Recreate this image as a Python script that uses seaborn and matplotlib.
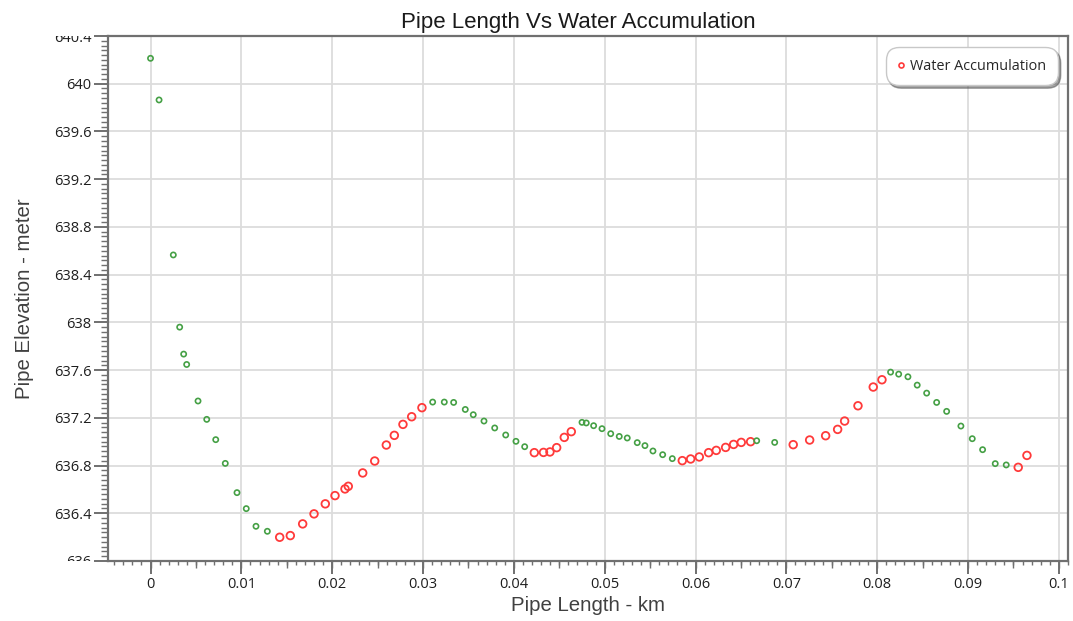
import numpy as np
import pandas as pd
import matplotlib
matplotlib.use("Agg")
import matplotlib.pyplot as plt
import seaborn as sns
from matplotlib.ticker import MultipleLocator, FixedLocator, NullFormatter
from matplotlib.transforms import Bbox, TransformedBbox
from matplotlib.lines import Line2D

# ---------------- data ----------------
x_green = [0.0000, 0.00094, 0.00251, 0.00321, 0.00365, 0.00398, 0.00523, 0.00619, 0.00718,
           0.00823, 0.00952, 0.01054, 0.01161, 0.01286, 0.03106, 0.03234, 0.03337, 0.03465,
           0.03553, 0.03671, 0.03789, 0.03910, 0.04023, 0.04119, 0.04750, 0.04797, 0.04878,
           0.04970, 0.05066, 0.05160, 0.05248, 0.05358, 0.05443, 0.05531, 0.05638, 0.05744,
           0.06673, 0.06871, 0.08147, 0.08236, 0.08338, 0.08440, 0.08544, 0.08654, 0.08764,
           0.08921, 0.09046, 0.09160, 0.09299, 0.09420]
y_green = [640.213, 639.864, 638.565, 637.960, 637.734, 637.647, 637.341, 637.187, 637.017,
           636.818, 636.573, 636.439, 636.291, 636.249, 637.332, 637.332, 637.329, 637.270,
           637.226, 637.173, 637.115, 637.056, 637.003, 636.958, 637.162, 637.157, 637.134,
           637.109, 637.067, 637.044, 637.031, 636.992, 636.967, 636.922, 636.891, 636.858,
           637.008, 636.994, 637.583, 637.566, 637.544, 637.474, 637.407, 637.329, 637.254,
           637.131, 637.025, 636.933, 636.816, 636.805]

x_red = [0.01422, 0.01539, 0.01675, 0.01800, 0.01924, 0.02031, 0.02141, 0.02177, 0.02336,
         0.02468, 0.02596, 0.02684, 0.02779, 0.02875, 0.02988, 0.04225, 0.04326, 0.04397,
         0.04471, 0.04555, 0.04632, 0.05854, 0.05946, 0.06041, 0.06144, 0.06228, 0.06331,
         0.06419, 0.06503, 0.06606, 0.07075, 0.07256, 0.07432, 0.07564, 0.07641, 0.07788,
         0.07956, 0.08052, 0.09552, 0.09648]
y_red = [636.199, 636.213, 636.311, 636.395, 636.479, 636.548, 636.604, 636.626, 636.738,
         636.838, 636.972, 637.053, 637.145, 637.209, 637.285, 636.908, 636.910, 636.914,
         636.950, 637.036, 637.084, 636.841, 636.855, 636.872, 636.908, 636.927, 636.952,
         636.977, 636.994, 637.000, 636.975, 637.014, 637.050, 637.103, 637.173, 637.301,
         637.458, 637.519, 636.785, 636.885]

x_ticks = [0, 0.01, 0.02, 0.03, 0.04, 0.05, 0.06, 0.07, 0.08, 0.09, 0.1]
x_tick_labels = ["0", "0.01", "0.02", "0.03", "0.04", "0.05", "0.06", "0.07", "0.08", "0.09", "0.1"]
y_ticks = [636, 636.4, 636.8, 637.2, 637.6, 638, 638.4, 638.8, 639.2, 639.6, 640, 640.4]
y_tick_labels = ["636", "636.4", "636.8", "637.2", "637.6", "638", "638.4", "638.8",
                 "639.2", "639.6", "640", "640.4"]

title = "Pipe Length Vs Water Accumulation"
x_label = "Pipe Length - km"
y_label = "Pipe Elevation - meter"
series_label = "Water Accumulation"

df_red = pd.DataFrame({"x": x_red, "y": y_red})
df_green = pd.DataFrame({"x": x_green, "y": y_green})

# ---------------- style ----------------
sns.set_theme(style="white")
plt.rcParams["font.family"] = ["Liberation Sans", "DejaVu Sans"]

RED = "#ff3a3a"
GREEN = "#45a045"
SPINE = "#707070"
TICK_FONT = ["Open Sans", "DejaVu Sans"]

fig = plt.figure(figsize=(10.73, 6.21), dpi=100)
ax = fig.add_axes([108 / 1073, 60 / 621, 960 / 1073, 525 / 621])

sns.scatterplot(data=df_red, x="x", y="y", ax=ax, marker="o", s=30,
                facecolor="none", edgecolor=RED, linewidth=1.3, legend=False, zorder=3)
sns.scatterplot(data=df_green, x="x", y="y", ax=ax, marker="o", s=14,
                facecolor="none", edgecolor=GREEN, linewidth=1.2, legend=False, zorder=4)

ax.set_xlim(-0.00468, 0.1010)
ax.set_ylim(636, 640.4)

ax.xaxis.set_major_locator(FixedLocator(x_ticks))
ax.set_xticklabels(x_tick_labels)
ax.yaxis.set_major_locator(FixedLocator(y_ticks))
ax.set_yticklabels(y_tick_labels)
ax.xaxis.set_minor_locator(MultipleLocator(0.001))
ax.yaxis.set_minor_locator(MultipleLocator(0.04))

ax.grid(True, which="major", color="#dcdcdc", linewidth=1.3)
ax.set_axisbelow(True)

for sp in ax.spines.values():
    sp.set_color(SPINE)
    sp.set_linewidth(1.6)

ax.tick_params(axis="both", which="major", direction="out", color=SPINE,
               width=1.4, labelcolor="#1e1e1e", labelsize=10.5, pad=2)
ax.tick_params(axis="x", which="major", length=9.5)
ax.tick_params(axis="y", which="major", length=10)
ax.tick_params(axis="x", which="minor", direction="out", length=2.8, width=1.0, color=SPINE)
ax.tick_params(axis="y", which="minor", direction="out", length=5, width=1.0, color=SPINE)
ax.tick_params(bottom=True, left=True, top=False, right=False)
ax.tick_params(which="minor", bottom=True, left=True, top=False, right=False)

# medium-length half-step ticks on the x axis
sec = ax.secondary_xaxis("bottom")
sec.xaxis.set_major_locator(MultipleLocator(0.005))
sec.xaxis.set_major_formatter(NullFormatter())
sec.tick_params(axis="x", which="major", direction="out", length=5, width=1.0, color=SPINE)
sec.tick_params(axis="x", which="minor", length=0)
sec.spines["bottom"].set_visible(False)

for lab in ax.get_xticklabels() + ax.get_yticklabels():
    lab.set_fontfamily(TICK_FONT)

ax.set_xlabel(x_label, fontsize=14.7, color="#404040", labelpad=3)
ax.set_ylabel(y_label, fontsize=14.7, color="#404040", labelpad=14)
ax.set_title(title, fontsize=16, color="#1a1a1a", pad=6, x=0.490)

handle = Line2D([], [], linestyle="none", marker="o", markersize=3.6,
                markerfacecolor="none", markeredgecolor=RED, markeredgewidth=1.2)
leg = ax.legend([handle], [series_label], loc="upper right",
                bbox_to_anchor=(0.9865, 0.973), frameon=True, fancybox=True,
                shadow=True, handlelength=0.5, handletextpad=0.4,
                borderpad=0.6, borderaxespad=0.0, prop={"family": TICK_FONT, "size": 10.4})
leg.get_frame().set_edgecolor("#c8c8c8")
leg.get_frame().set_facecolor("white")
leg.get_frame().set_linewidth(1.0)
leg.get_frame().set_boxstyle("round,pad=0.2,rounding_size=0.9")
for t in leg.get_texts():
    t.set_color("#262626")

# clip y tick labels to the vertical extent of the axes (as in the reference)
fig.canvas.draw()
clipbox = TransformedBbox(Bbox([[-1.0, 0.0], [1.0, 1.0]]), ax.transAxes)
for tick in ax.yaxis.get_major_ticks():
    tick.label1.set_clip_box(clipbox)
    tick.label1.set_clip_on(True)

fig.savefig("out.png", dpi=100)
